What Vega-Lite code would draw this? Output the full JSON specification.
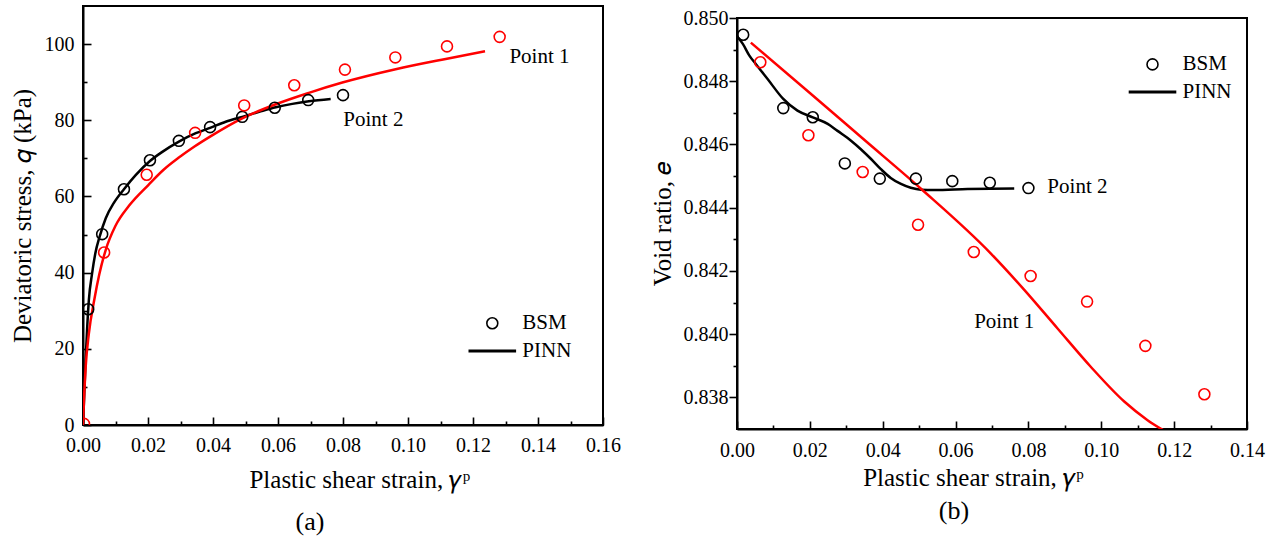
{
  "$schema": "https://vega.github.io/schema/vega-lite/v6.json",
  "background": "white",
  "padding": {"left": 9, "top": 5, "right": 0, "bottom": 0},
  "align": "none",
  "spacing": 27,
  "resolve": {
    "legend": {"shape": "independent", "size": "independent", "strokeWidth": "independent"},
    "scale": {"shape": "independent", "size": "independent", "strokeWidth": "independent", "color": "independent"}
  },
  "config": {
    "font": "Liberation Serif",
    "view": {"stroke": "black", "strokeWidth": 2},
    "style": {
      "guide-label": {"font": "Liberation Serif"},
      "guide-title": {"font": "Liberation Serif"},
      "group-title": {"font": "Liberation Serif"}
    },
    "text": {"font": "Liberation Serif"},
    "axis": {
      "grid": false,
      "labelFont": "Liberation Serif",
      "titleFont": "Liberation Serif",
      "labelColor": "black",
      "titleColor": "black",
      "tickColor": "black",
      "domainColor": "black",
      "domainWidth": 2,
      "tickWidth": 1.6,
      "labelFontSize": 20,
      "titleFontSize": 25,
      "titleFontWeight": "normal",
      "labelFlush": false,
      "labelOverlap": false
    },
    "legend": {
      "labelFont": "Liberation Serif",
      "labelFontSize": 21,
      "labelColor": "black",
      "padding": 0
    },
    "title": {"font": "Liberation Serif", "fontWeight": "normal", "color": "black", "fontSize": 26}
  },
  "datasets": {
    "aPts": [
      {"series": "Point 2", "kind": "BSM", "x": 0.0016, "y": 30.4},
      {"series": "Point 2", "kind": "BSM", "x": 0.0059, "y": 50.1},
      {"series": "Point 2", "kind": "BSM", "x": 0.0126, "y": 61.9},
      {"series": "Point 2", "kind": "BSM", "x": 0.0206, "y": 69.5},
      {"series": "Point 2", "kind": "BSM", "x": 0.0295, "y": 74.6},
      {"series": "Point 2", "kind": "BSM", "x": 0.0391, "y": 78.2},
      {"series": "Point 2", "kind": "BSM", "x": 0.049, "y": 80.9},
      {"series": "Point 2", "kind": "BSM", "x": 0.059, "y": 83.3},
      {"series": "Point 2", "kind": "BSM", "x": 0.0693, "y": 85.3},
      {"series": "Point 2", "kind": "BSM", "x": 0.08, "y": 86.6},
      {"series": "Point 1", "kind": "BSM", "x": 0.0003, "y": 0.3},
      {"series": "Point 1", "kind": "BSM", "x": 0.0065, "y": 45.3},
      {"series": "Point 1", "kind": "BSM", "x": 0.0196, "y": 65.7},
      {"series": "Point 1", "kind": "BSM", "x": 0.0345, "y": 76.7},
      {"series": "Point 1", "kind": "BSM", "x": 0.0496, "y": 83.9},
      {"series": "Point 1", "kind": "BSM", "x": 0.065, "y": 89.2},
      {"series": "Point 1", "kind": "BSM", "x": 0.0806, "y": 93.3},
      {"series": "Point 1", "kind": "BSM", "x": 0.0961, "y": 96.5},
      {"series": "Point 1", "kind": "BSM", "x": 0.112, "y": 99.4},
      {"series": "Point 1", "kind": "BSM", "x": 0.1282, "y": 101.9}
    ],
    "aLines": [
      {"series": "Point 2", "x": 0, "y": 0},
      {"series": "Point 2", "x": 0.0004, "y": 8.3},
      {"series": "Point 2", "x": 0.0008, "y": 17.1},
      {"series": "Point 2", "x": 0.0013, "y": 25.8},
      {"series": "Point 2", "x": 0.0018, "y": 32.8},
      {"series": "Point 2", "x": 0.0028, "y": 39.8},
      {"series": "Point 2", "x": 0.0038, "y": 45.1},
      {"series": "Point 2", "x": 0.0051, "y": 49.4},
      {"series": "Point 2", "x": 0.007, "y": 54.3},
      {"series": "Point 2", "x": 0.0095, "y": 58.3},
      {"series": "Point 2", "x": 0.0126, "y": 61.9},
      {"series": "Point 2", "x": 0.0162, "y": 65.6},
      {"series": "Point 2", "x": 0.0206, "y": 69.3},
      {"series": "Point 2", "x": 0.0244, "y": 71.7},
      {"series": "Point 2", "x": 0.0295, "y": 74.4},
      {"series": "Point 2", "x": 0.0347, "y": 76.6},
      {"series": "Point 2", "x": 0.0391, "y": 78.0},
      {"series": "Point 2", "x": 0.0439, "y": 79.6},
      {"series": "Point 2", "x": 0.049, "y": 80.9},
      {"series": "Point 2", "x": 0.0542, "y": 82.2},
      {"series": "Point 2", "x": 0.0593, "y": 83.4},
      {"series": "Point 2", "x": 0.0644, "y": 84.3},
      {"series": "Point 2", "x": 0.0695, "y": 85.0},
      {"series": "Point 2", "x": 0.0762, "y": 85.6},
      {"series": "Point 1", "x": 0, "y": 0},
      {"series": "Point 1", "x": 0.0004, "y": 8.5},
      {"series": "Point 1", "x": 0.0008, "y": 15},
      {"series": "Point 1", "x": 0.0018, "y": 24},
      {"series": "Point 1", "x": 0.0035, "y": 33},
      {"series": "Point 1", "x": 0.005, "y": 39.5},
      {"series": "Point 1", "x": 0.007, "y": 46},
      {"series": "Point 1", "x": 0.01, "y": 52.3},
      {"series": "Point 1", "x": 0.0142, "y": 57.6},
      {"series": "Point 1", "x": 0.0201, "y": 63.0},
      {"series": "Point 1", "x": 0.0248, "y": 67.0},
      {"series": "Point 1", "x": 0.0295, "y": 70.2},
      {"series": "Point 1", "x": 0.0343, "y": 73.1},
      {"series": "Point 1", "x": 0.0391, "y": 75.7},
      {"series": "Point 1", "x": 0.049, "y": 80.5},
      {"series": "Point 1", "x": 0.0593, "y": 84.2},
      {"series": "Point 1", "x": 0.0695, "y": 87.2},
      {"series": "Point 1", "x": 0.0798, "y": 89.9},
      {"series": "Point 1", "x": 0.0962, "y": 93.4},
      {"series": "Point 1", "x": 0.1116, "y": 96.1},
      {"series": "Point 1", "x": 0.1237, "y": 98.1}
    ],
    "aText": [
      {"label": "Point 1", "x": 0.1312, "y": 96.6},
      {"label": "Point 2", "x": 0.0801, "y": 80.1}
    ],
    "bPts": [
      {"series": "Point 2", "kind": "BSM", "x": 0.0017, "y": 0.84947},
      {"series": "Point 2", "kind": "BSM", "x": 0.0127, "y": 0.84715},
      {"series": "Point 2", "kind": "BSM", "x": 0.0208, "y": 0.84686},
      {"series": "Point 2", "kind": "BSM", "x": 0.0296, "y": 0.8454},
      {"series": "Point 2", "kind": "BSM", "x": 0.0392, "y": 0.84492},
      {"series": "Point 2", "kind": "BSM", "x": 0.0491, "y": 0.84492},
      {"series": "Point 2", "kind": "BSM", "x": 0.0591, "y": 0.84484},
      {"series": "Point 2", "kind": "BSM", "x": 0.0694, "y": 0.84479},
      {"series": "Point 2", "kind": "BSM", "x": 0.08, "y": 0.84462},
      {"series": "Point 1", "kind": "BSM", "x": 0.0064, "y": 0.8486},
      {"series": "Point 1", "kind": "BSM", "x": 0.0196, "y": 0.84629},
      {"series": "Point 1", "kind": "BSM", "x": 0.0345, "y": 0.84513},
      {"series": "Point 1", "kind": "BSM", "x": 0.0497, "y": 0.84346},
      {"series": "Point 1", "kind": "BSM", "x": 0.065, "y": 0.8426},
      {"series": "Point 1", "kind": "BSM", "x": 0.0806, "y": 0.84184},
      {"series": "Point 1", "kind": "BSM", "x": 0.0961, "y": 0.84103},
      {"series": "Point 1", "kind": "BSM", "x": 0.1121, "y": 0.83963},
      {"series": "Point 1", "kind": "BSM", "x": 0.1283, "y": 0.8381}
    ],
    "bLines": [
      {"series": "Point 2", "x": 0, "y": 0.84942},
      {"series": "Point 2", "x": 0.0016, "y": 0.84918},
      {"series": "Point 2", "x": 0.0034, "y": 0.84881},
      {"series": "Point 2", "x": 0.0052, "y": 0.84854},
      {"series": "Point 2", "x": 0.0084, "y": 0.84807},
      {"series": "Point 2", "x": 0.0127, "y": 0.84744},
      {"series": "Point 2", "x": 0.0166, "y": 0.84707},
      {"series": "Point 2", "x": 0.0208, "y": 0.84686},
      {"series": "Point 2", "x": 0.0249, "y": 0.84665},
      {"series": "Point 2", "x": 0.0276, "y": 0.84643},
      {"series": "Point 2", "x": 0.0313, "y": 0.84612},
      {"series": "Point 2", "x": 0.034, "y": 0.84585},
      {"series": "Point 2", "x": 0.0368, "y": 0.84554},
      {"series": "Point 2", "x": 0.0395, "y": 0.84522},
      {"series": "Point 2", "x": 0.0422, "y": 0.84494},
      {"series": "Point 2", "x": 0.045, "y": 0.84475},
      {"series": "Point 2", "x": 0.0477, "y": 0.84463},
      {"series": "Point 2", "x": 0.0505, "y": 0.84457},
      {"series": "Point 2", "x": 0.0541, "y": 0.84456},
      {"series": "Point 2", "x": 0.0633, "y": 0.84459},
      {"series": "Point 2", "x": 0.0761, "y": 0.84461},
      {"series": "Point 1", "x": 0.0038, "y": 0.84922},
      {"series": "Point 1", "x": 0.02, "y": 0.84763},
      {"series": "Point 1", "x": 0.035, "y": 0.84614},
      {"series": "Point 1", "x": 0.0505, "y": 0.84460},
      {"series": "Point 1", "x": 0.0697, "y": 0.84255},
      {"series": "Point 1", "x": 0.0788, "y": 0.84141},
      {"series": "Point 1", "x": 0.088, "y": 0.84018},
      {"series": "Point 1", "x": 0.0971, "y": 0.83897},
      {"series": "Point 1", "x": 0.1063, "y": 0.83787},
      {"series": "Point 1", "x": 0.1127, "y": 0.83728},
      {"series": "Point 1", "x": 0.1172, "y": 0.83695}
    ],
    "bText": [
      {"label": "Point 2", "x": 0.0852, "y": 0.84465},
      {"label": "Point 1", "x": 0.0651, "y": 0.84038}
    ]
  },
  "hconcat": [
    {
      "width": 520,
      "height": 419,
      "title": {"text": "(a)", "orient": "bottom", "anchor": "middle", "dx": -33, "offset": 17, "font": "Liberation Serif"},
      "resolve": {"axis": {"x": "independent", "y": "independent"}},
      "layer": [
        {
          "data": {"name": "aLines"},
          "mark": {"type": "line", "strokeWidth": 2.5, "clip": true, "interpolate": "monotone"},
          "encoding": {
            "x": {"field": "x", "type": "quantitative", "scale": {"domain": [0, 0.16], "nice": false, "zero": false},
              "axis": {"orient": "bottom", "values": [0.01, 0.03, 0.05, 0.07, 0.09, 0.11, 0.13, 0.15], "labels": false, "title": null, "tickSize": -4, "domain": false}},
            "y": {"field": "y", "type": "quantitative", "scale": {"domain": [0, 110], "nice": false},
              "axis": {"orient": "left", "values": [10, 30, 50, 70, 90], "labels": false, "title": null, "tickSize": -4, "domain": false}},
            "color": {"field": "series", "type": "nominal", "scale": {"domain": ["Point 1", "Point 2"], "range": ["#ff0000", "#000000"]}, "legend": null},
            "detail": {"field": "series"}
          }
        },
        {
          "data": {"name": "aPts"},
          "mark": {"type": "point", "filled": false, "clip": true, "opacity": 1},
          "encoding": {
            "x": {"field": "x", "type": "quantitative",
              "axis": {"orient": "bottom", "values": [0, 0.02, 0.04, 0.06, 0.08, 0.1, 0.12, 0.14, 0.16], "format": ".2f", "tickSize": -8, "labelPadding": 18, "labelFont": "Liberation Serif",
                "title": "Plastic shear strain, 𝛾ᵖ", "titleX": 276.3, "titleY": 62.3, "titleBaseline": "alphabetic", "titleAlign": "center"}},
            "y": {"field": "y", "type": "quantitative",
              "axis": {"orient": "left", "values": [0, 20, 40, 60, 80, 100], "format": "d", "tickSize": -8, "labelPadding": 17, "labelFont": "Liberation Serif",
                "title": "Deviatoric stress, 𝑞 (kPa)", "titleX": -52.3, "titleY": 209.5, "titleBaseline": "alphabetic", "titleAlign": "center", "titleAngle": -90}},
            "color": {"field": "series", "type": "nominal", "scale": {"domain": ["Point 1", "Point 2"], "range": ["#ff0000", "#000000"]}, "legend": null},
            "shape": {"field": "kind", "type": "ordinal", "scale": {"domain": ["BSM", "PINN"], "range": ["circle", "stroke"]},
              "legend": {"title": null, "orient": "none", "legendX": 383.8, "legendY": 306.8, "symbolStrokeColor": "black", "labelOffset": 4.5, "clipHeight": 21, "rowPadding": 5.7, "labelFont": "Liberation Serif"}},
            "size": {"field": "kind", "type": "ordinal", "scale": {"domain": ["BSM", "PINN"], "range": [120, 2266]},
              "legend": {"title": null, "orient": "none", "legendX": 383.8, "legendY": 306.8, "symbolStrokeColor": "black", "labelOffset": 4.5, "clipHeight": 21, "rowPadding": 5.7, "labelFont": "Liberation Serif"}},
            "strokeWidth": {"field": "kind", "type": "ordinal", "scale": {"domain": ["BSM", "PINN"], "range": [1.6, 3]},
              "legend": {"title": null, "orient": "none", "legendX": 383.8, "legendY": 306.8, "symbolStrokeColor": "black", "labelOffset": 4.5, "clipHeight": 21, "rowPadding": 5.7, "labelFont": "Liberation Serif"}}
          }
        },
        {
          "data": {"name": "aText"},
          "mark": {"type": "text", "align": "left", "baseline": "middle", "fontSize": 21, "color": "black", "font": "Liberation Serif"},
          "encoding": {
            "x": {"field": "x", "type": "quantitative", "axis": null},
            "y": {"field": "y", "type": "quantitative", "axis": null},
            "text": {"field": "label"}
          }
        }
      ]
    },
    {
      "spacing": 0,
      "vconcat": [
        {
          "width": 510,
          "height": 1,
          "view": {"stroke": null},
          "data": {"values": [{"a": 1}]},
          "mark": {"type": "point", "size": 0, "opacity": 0},
          "encoding": {}
        },
        {
          "width": 510,
          "height": 411,
          "title": {"text": "(b)", "orient": "bottom", "anchor": "middle", "dx": -38, "offset": 7, "font": "Liberation Serif"},
          "resolve": {"axis": {"x": "independent", "y": "independent"}},
          "layer": [
            {
              "data": {"name": "bLines"},
              "mark": {"type": "line", "strokeWidth": 2.5, "clip": true, "interpolate": "monotone"},
              "encoding": {
                "x": {"field": "x", "type": "quantitative", "scale": {"domain": [0, 0.14], "nice": false, "zero": false},
                  "axis": {"orient": "bottom", "values": [0.01, 0.03, 0.05, 0.07, 0.09, 0.11, 0.13], "labels": false, "title": null, "tickSize": -4, "domain": false}},
                "y": {"field": "y", "type": "quantitative", "scale": {"domain": [0.837, 0.85], "nice": false, "zero": false},
                  "axis": {"orient": "left", "values": [0.839, 0.841, 0.843, 0.845, 0.847, 0.849], "labels": false, "title": null, "tickSize": 4, "domain": false}},
                "color": {"field": "series", "type": "nominal", "scale": {"domain": ["Point 1", "Point 2"], "range": ["#ff0000", "#000000"]}, "legend": null},
                "detail": {"field": "series"}
              }
            },
            {
              "data": {"name": "bPts"},
              "mark": {"type": "point", "filled": false, "clip": true, "opacity": 1},
              "encoding": {
                "x": {"field": "x", "type": "quantitative",
                  "axis": {"orient": "bottom", "values": [0, 0.02, 0.04, 0.06, 0.08, 0.1, 0.12, 0.14], "format": ".2f", "tickSize": -8, "labelPadding": 19.7, "labelFont": "Liberation Serif",
                    "title": "Plastic shear strain, 𝛾ᵖ", "titleX": 236, "titleY": 56.7, "titleBaseline": "alphabetic", "titleAlign": "center"}},
                "y": {"field": "y", "type": "quantitative",
                  "axis": {"orient": "left", "values": [0.838, 0.84, 0.842, 0.844, 0.846, 0.848, 0.85], "format": ".3f", "tickSize": 8, "labelPadding": 1, "labelFont": "Liberation Serif",
                    "title": "Void ratio, 𝑒", "titleX": -66.8, "titleY": 205.5, "titleBaseline": "alphabetic", "titleAlign": "center", "titleAngle": -90}},
                "color": {"field": "series", "type": "nominal", "scale": {"domain": ["Point 1", "Point 2"], "range": ["#ff0000", "#000000"]}, "legend": null},
                "shape": {"field": "kind", "type": "ordinal", "scale": {"domain": ["BSM", "PINN"], "range": ["circle", "stroke"]},
                  "legend": {"title": null, "orient": "none", "legendX": 390, "legendY": 47.9, "symbolStrokeColor": "black", "labelOffset": 4.5, "clipHeight": 21, "rowPadding": 5.7, "labelFont": "Liberation Serif"}},
                "size": {"field": "kind", "type": "ordinal", "scale": {"domain": ["BSM", "PINN"], "range": [120, 2266]},
                  "legend": {"title": null, "orient": "none", "legendX": 390, "legendY": 47.9, "symbolStrokeColor": "black", "labelOffset": 4.5, "clipHeight": 21, "rowPadding": 5.7, "labelFont": "Liberation Serif"}},
                "strokeWidth": {"field": "kind", "type": "ordinal", "scale": {"domain": ["BSM", "PINN"], "range": [1.6, 3]},
                  "legend": {"title": null, "orient": "none", "legendX": 390, "legendY": 47.9, "symbolStrokeColor": "black", "labelOffset": 4.5, "clipHeight": 21, "rowPadding": 5.7, "labelFont": "Liberation Serif"}}
              }
            },
            {
              "data": {"name": "bText"},
              "mark": {"type": "text", "align": "left", "baseline": "middle", "fontSize": 21, "color": "black", "font": "Liberation Serif"},
              "encoding": {
                "x": {"field": "x", "type": "quantitative", "axis": null},
                "y": {"field": "y", "type": "quantitative", "axis": null},
                "text": {"field": "label"}
              }
            }
          ]
        }
      ]
    }
  ]
}
